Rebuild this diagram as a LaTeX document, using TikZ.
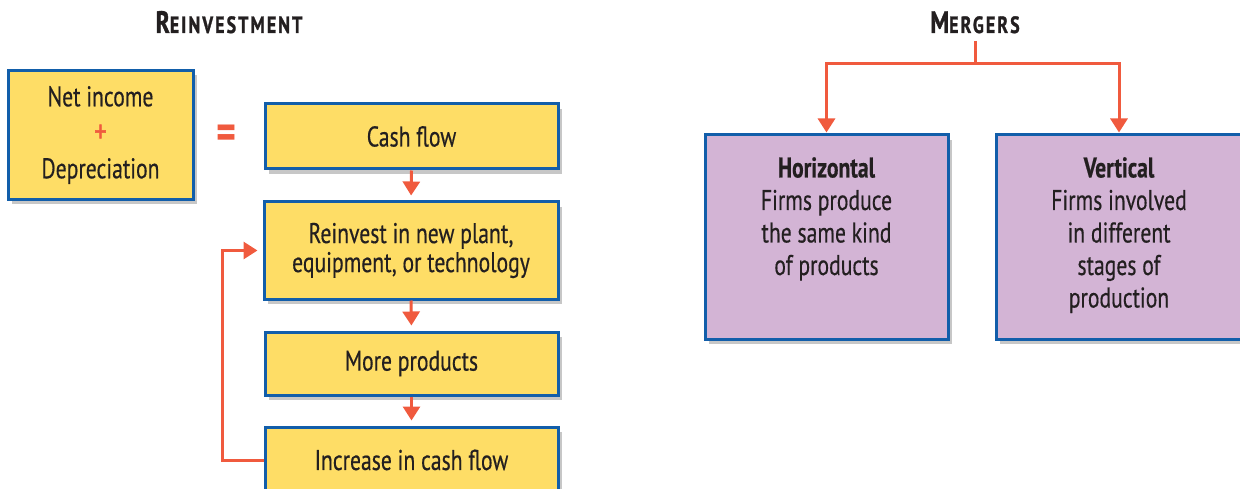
\documentclass[tikz,border=0pt]{standalone}
\usepackage{fontspec}
\setmainfont{PT Sans}[FakeStretch=0.76]
\usetikzlibrary{arrows.meta,shadows}
\definecolor{boxyellow}{RGB}{254,221,102}
\definecolor{boxblue}{RGB}{18,94,170}
\definecolor{boxpurple}{RGB}{211,180,213}
\definecolor{arrowred}{RGB}{240,90,62}
\definecolor{textdark}{RGB}{35,31,32}
\newcommand{\sctitle}[2]{{\addfontfeature{LetterSpace=9,FakeBold=1.2}\fontsize{31}{31}\selectfont #1\fontsize{23.5}{23.5}\selectfont #2}}
\begin{document}
\begin{tikzpicture}[x=1pt,y=-1pt,
  box/.style={draw=boxblue, line width=3pt, inner sep=0pt, align=center, text=textdark,
    font=\fontsize{28.5}{29}\selectfont\addfontfeature{FakeBold=0.4},
    drop shadow={shadow xshift=4pt, shadow yshift=-5pt, fill=black, opacity=0.22}},
  ybox/.style={box, fill=boxyellow},
  pbox/.style={box, fill=boxpurple},
  mtext/.style={inner sep=0pt, align=center, text=textdark, font=\fontsize{28.5}{32.5}\selectfont\addfontfeature{FakeBold=0.4}},
  titletext/.style={inner sep=0pt, text=textdark, font=\bfseries},
  line/.style={draw=arrowred, line width=3pt},
  conn/.style={line, -{Triangle[width=17pt,length=14pt]}}]
\path[use as bounding box, clip] (0,0) rectangle (1240,489);

% Reinvestment
\node[titletext, anchor=base] (rt) at (229,33) {\sctitle{R}{EINVESTMENT}};
\node[ybox, minimum width=185pt, minimum height=129pt, font=\fontsize{28.5}{36}\selectfont\addfontfeature{FakeBold=0.4}] (ni) at (100.5,135)
  {Net income\\{\color{arrowred}\fontsize{32}{36}\selectfont\addfontfeature{FakeBold=1.5}+}\\Depreciation};
\node[text=arrowred, font=\fontsize{50}{50}\selectfont\bfseries, inner sep=0pt] (eq) at (227,137) {=};
\node[ybox, minimum width=293pt, minimum height=65pt] (cf) at (411.5,136.5) {Cash flow};
\node[ybox, minimum width=294pt, minimum height=97pt] (ri) at (411,250.5) {Reinvest in new plant,\\equipment, or technology};
\node[ybox, minimum width=293pt, minimum height=63pt] (mp) at (411.5,363.5) {More products};
\node[ybox, minimum width=293pt, minimum height=66pt] (ic) at (411.5,460) {Increase in cash flow};

\draw[conn, shorten >=5pt] (cf.south) -- (ri.north);
\draw[conn, shorten >=5pt] (ri.south) -- (mp.north);
\draw[conn, shorten >=5pt] (mp.south) -- (ic.north);
\coordinate (fb) at (222,460);
\draw[conn, shorten >=5pt] (ic.west) -- (fb) |- (ri.west);

% Mergers
\node[titletext, anchor=base] (mt) at (975,33) {\sctitle{M}{ERGERS}};
\node[pbox, minimum width=243pt, minimum height=204pt] (hb) at (826.5,237) {};
\node[pbox, minimum width=246pt, minimum height=204pt] (vb) at (1119,237) {};
\node[mtext, anchor=north] (ht) at (826.5,157) {\textbf{Horizontal}\\Firms produce\\the same kind\\of products};
\node[mtext, anchor=north] (vt) at (1119,157) {\textbf{Vertical}\\Firms involved\\in different\\stages of\\production};

\coordinate (mtop) at (975,41);
\coordinate (mjoin) at (975,64);
\draw[line] (mtop) -- (mjoin);
\draw[conn, shorten >=1pt] (mjoin) -| (hb.north);
\draw[conn, shorten >=1pt] (mjoin) -| (vb.north);
\end{tikzpicture}
\end{document}
